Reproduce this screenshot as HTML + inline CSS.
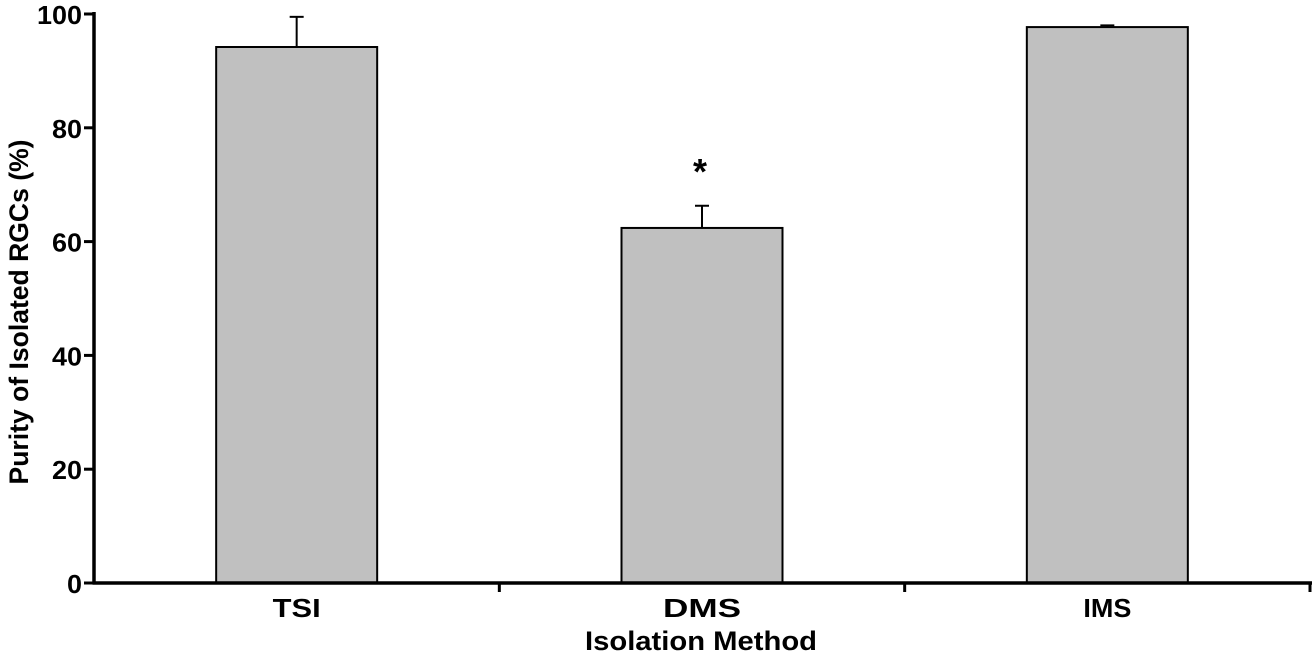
<!DOCTYPE html>
<html><head><meta charset="utf-8"><style>
html,body{margin:0;padding:0;background:#fff;}
svg{display:block;font-family:"Liberation Sans",Arial,sans-serif;font-weight:bold;}
</style></head><body>
<svg id="chart" width="1316" height="656" viewBox="0 0 1316 656"></svg>
<script>
const categories = ["TSI", "DMS", "IMS"];
const values = [94.2, 62.4, 97.7];
const errors = [5.3, 3.9, 0.3];
const significance = ["", "*", ""];
const yTicks = [0, 20, 40, 60, 80, 100];

const svg = document.getElementById('chart');
const NS = 'http://www.w3.org/2000/svg';
const x0 = 94, x1 = 1310, y0 = 583, yTop = 14;
const yScale = v => y0 - (v / 100) * (y0 - yTop);
const band = (x1 - x0) / categories.length;
const xCenter = i => x0 + band * (i + 0.5);
const barW = 161;

function mk(tag, attrs) {
  const e = document.createElementNS(NS, tag);
  for (const k in attrs) e.setAttribute(k, attrs[k]);
  svg.appendChild(e);
  return e;
}

categories.forEach((c, i) => {
  const cx = xCenter(i), top = yScale(values[i]), et = yScale(values[i] + errors[i]);
  const eb = mk('line', {x1: cx, x2: cx, y1: top, y2: et, stroke: '#000', 'stroke-width': 2});
  
  
  const cap = mk('line', {x1: cx - 7, x2: cx + 7, y1: et, y2: et, stroke: '#000', 'stroke-width': 2});
  
  
  const r = mk('rect', {x: cx - barW / 2, y: top, width: barW, height: y0 - top, fill: '#c0c0c0', stroke: '#000', 'stroke-width': 2});
  
  
  const t = mk('text', {x: cx, y: 617, 'text-anchor': 'middle', 'font-size': 26, textLength: c.length * 16 + (c === 'DMS' ? 30 : 0), lengthAdjust: 'spacingAndGlyphs'});
  t.textContent = c;
  
  
  if (significance[i]) {
    const s = mk('text', {x: cx - 2, y: et - 22, 'text-anchor': 'middle', 'font-size': 36});
    s.textContent = significance[i];
    
    
  }
});

yTicks.forEach(v => {
  const y = yScale(v);
  const tk = mk('line', {x1: x0 - 10, x2: x0, y1: y, y2: y, stroke: '#000', 'stroke-width': 3});
  
  
  const s = String(v);
  const t = mk('text', {x: 82, y: y + 10, 'text-anchor': 'end', 'font-size': 26, textLength: s.length * 15, lengthAdjust: 'spacingAndGlyphs'});
  t.textContent = s;
  
  
});
for (let i = 1; i <= categories.length; i++) {
  const x = x0 + band * i;
  const tk = mk('line', {x1: x, x2: x, y1: y0, y2: y0 + 9, stroke: '#000', 'stroke-width': 3});
  
  
}
const ya = mk('line', {x1: x0, x2: x0, y1: yTop - 2, y2: y0 + 1.5, stroke: '#000', 'stroke-width': 3.5});


const xa = mk('line', {x1: x0 - 1.5, x2: x1 + 2, y1: y0, y2: y0, stroke: '#000', 'stroke-width': 3.5});



const xt = mk('text', {x: 701, y: 650, 'text-anchor': 'middle', 'font-size': 27, textLength: 232, lengthAdjust: 'spacingAndGlyphs'});
xt.textContent = 'Isolation Method';


const yt = mk('text', {x: 0, y: 0, 'text-anchor': 'middle', 'font-size': 27, textLength: 345, lengthAdjust: 'spacingAndGlyphs', transform: 'translate(28,312) rotate(-90)'});
yt.textContent = 'Purity of Isolated RGCs (%)';


</script>
</body></html>
